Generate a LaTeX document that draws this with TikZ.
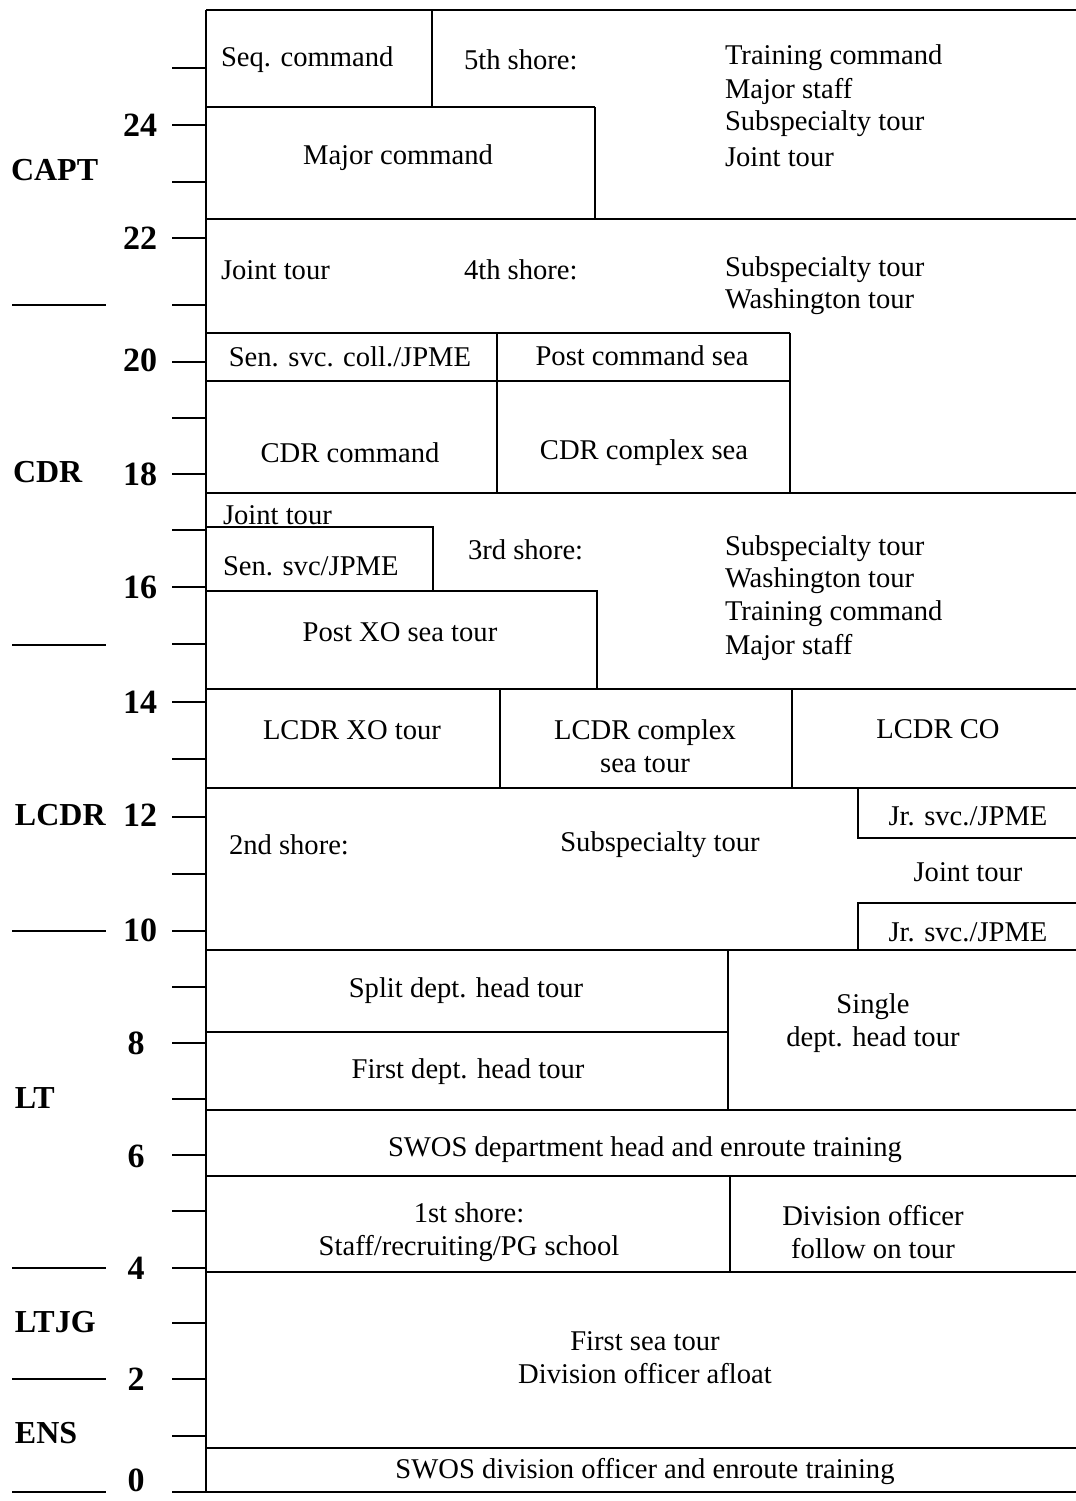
\documentclass[tikz,border=0pt]{standalone}
\usepackage{fontspec}
\setmainfont{Liberation Serif}
\begin{document}
\begin{tikzpicture}[x=0.5pt,y=-0.5pt,line width=1pt,
  txt/.style={font=\fontsize{14.3}{16.5}\selectfont,inner sep=0pt,align=center},
  lt/.style={txt,anchor=west},
  rank/.style={font=\bfseries\fontsize{16}{18}\selectfont,anchor=west,inner sep=0pt},
  num/.style={font=\bfseries\fontsize{17}{19}\selectfont,inner sep=0pt}]
\useasboundingbox (0,0) rectangle (1076,1501);
% left axis
\draw (206,10) -- (206,1492);
\draw (172,1492) -- (1076,1492);
\foreach \y in {68,125,182,238,305,362,418,474,530,587,644,702,759,817,874,931,987,1043,1099,1155,1211,1268,1323,1379,1436}
  \draw (172,\y) -- (206,\y);
\foreach \y in {305,645,931,1268,1379,1492}
  \draw (12,\y) -- (106,\y);
% rank labels
\node[rank] (capt) at (10,170) {CAPT};
\node[rank] (cdr) at (12,472) {CDR};
\node[rank] (lcdr) at (14,815) {LCDR};
\node[rank] (lt) at (14,1098) {LT};
\node[rank] (ltjg) at (14,1322) {LTJG};
\node[rank] (ens) at (14,1433) {ENS};
% numbers
\node[num] (n24) at (140,125) {24};
\node[num] (n22) at (140,238) {22};
\node[num] (n20) at (140,360) {20};
\node[num] (n18) at (140,474) {18};
\node[num] (n16) at (140,587) {16};
\node[num] (n14) at (140,702) {14};
\node[num] (n12) at (140,815) {12};
\node[num] (n10) at (140,930) {10};
\node[num] (n8) at (136,1043) {8};
\node[num] (n6) at (136,1156) {6};
\node[num] (n4) at (136,1268) {4};
\node[num] (n2) at (136,1379) {2};
\node[num] (n0) at (136,1480) {0};
% grid of tours
\draw (206,10) -- (1076,10);
\draw (432,10) -- (432,107);
\draw (206,107) -- (595,107);
\draw (595,107) -- (595,219);
\draw (206,219) -- (1076,219);
\draw (206,333) -- (790,333);
\draw (497,333) -- (497,493);
\draw (790,333) -- (790,493);
\draw (206,381) -- (790,381);
\draw (206,493) -- (1076,493);
\draw (206,527) -- (433,527) -- (433,591);
\draw (206,591) -- (597,591) -- (597,689);
\draw (206,689) -- (1076,689);
\draw (500,689) -- (500,788);
\draw (792,689) -- (792,788);
\draw (206,788) -- (1076,788);
\draw (858,788) -- (858,838) -- (1076,838);
\draw (1076,903) -- (858,903) -- (858,950);
\draw (206,950) -- (1076,950);
\draw (728,950) -- (728,1110);
\draw (206,1032) -- (728,1032);
\draw (206,1110) -- (1076,1110);
\draw (206,1176) -- (1076,1176);
\draw (730,1176) -- (730,1272);
\draw (206,1272) -- (1076,1272);
\draw (206,1448) -- (1076,1448);
% texts
\node[lt] (seq) at (220,60) {Seq. command};
\node[lt] (s5) at (463,60) {5th shore:};
\node[lt] (a1) at (724,58) {Training command};
\node[lt] (a2) at (724,91) {Major staff};
\node[lt] (a3) at (724,124) {Subspecialty tour};
\node[lt] (a4) at (724,157) {Joint tour};
\node[txt] (majcmd) at (398,158) {Major command};
\node[lt] (jt1) at (220,270) {Joint tour};
\node[lt] (s4) at (463,270) {4th shore:};
\node[lt] (b1) at (724,270) {Subspecialty tour};
\node[lt] (b2) at (724,302) {Washington tour};
\node[txt] (ssc) at (350,357) {Sen. svc. coll./JPME};
\node[txt] (pcs) at (642,356) {Post command sea};
\node[txt] (cdrc) at (350,453) {CDR command};
\node[txt] (cdrcs) at (644,453) {CDR complex sea};
\node[lt] (jt2) at (222,515) {Joint tour};
\node[lt] (ssj) at (222,566) {Sen. svc/JPME};
\node[lt] (s3) at (467,550) {3rd shore:};
\node[lt] (c1) at (724,549) {Subspecialty tour};
\node[lt] (c2) at (724,581) {Washington tour};
\node[lt] (c3) at (724,614) {Training command};
\node[lt] (c4) at (724,647) {Major staff};
\node[txt] (pxo) at (400,632) {Post XO sea tour};
\node[txt] (lxo) at (352,730) {LCDR XO tour};
\node[txt] (lcs) at (645,746) {LCDR complex\\sea tour};
\node[txt] (lco) at (938,729) {LCDR CO};
\node[txt] (jr1) at (968,816) {Jr. svc./JPME};
\node[lt] (s2) at (228,845) {2nd shore:};
\node[txt] (sub2) at (660,845) {Subspecialty tour};
\node[txt] (jt3) at (968,872) {Joint tour};
\node[txt] (jr2) at (968,932) {Jr. svc./JPME};
\node[txt] (split) at (466,991) {Split dept. head tour};
\node[txt] (first) at (468,1072) {First dept. head tour};
\node[txt] (single) at (873,1023) {Single\\dept. head tour};
\node[txt] (swos1) at (645,1150) {SWOS department head and enroute training};
\node[txt] (sh1) at (469,1232) {1st shore:\\Staff/recruiting/PG school};
\node[txt] (divf) at (873,1232) {Division officer\\follow on tour};
\node[txt] (fst) at (645,1358) {First sea tour\\Division officer afloat};
\node[txt] (swos2) at (645,1471) {SWOS division officer and enroute training};
\end{tikzpicture}
\end{document}
